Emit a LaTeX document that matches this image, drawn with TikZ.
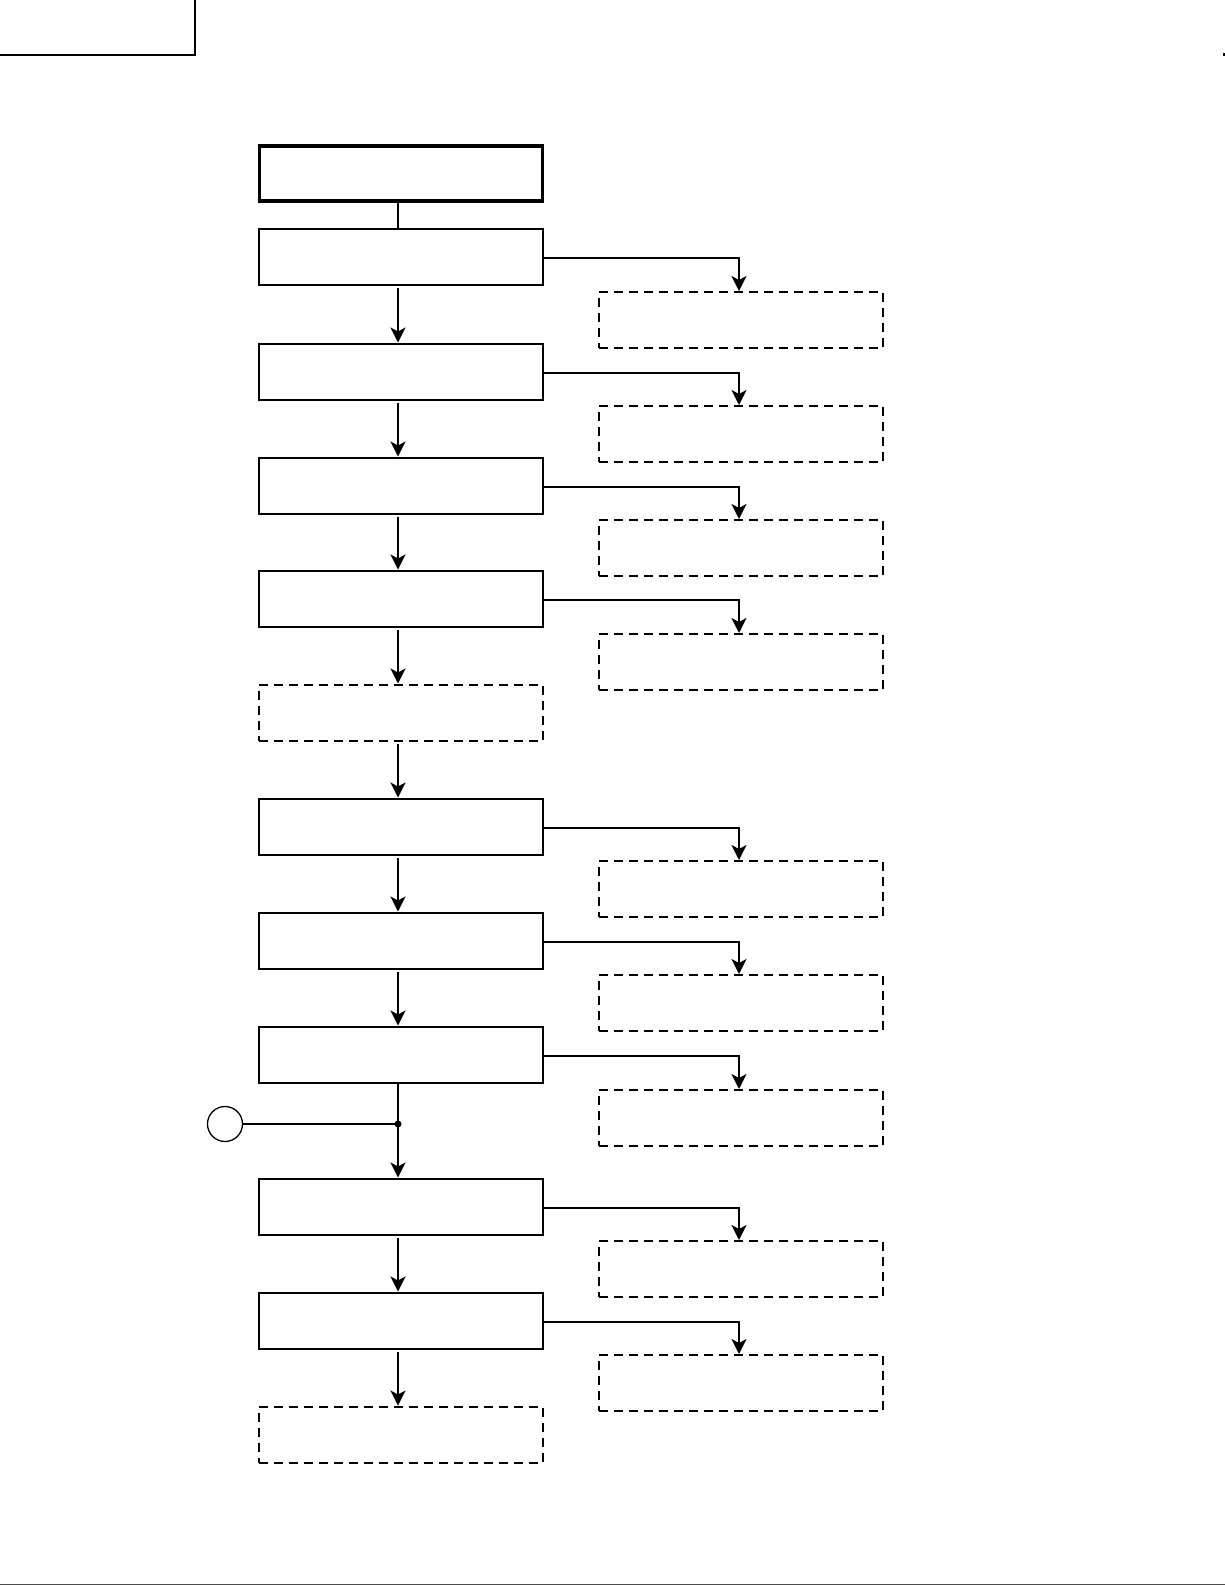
\documentclass[tikz,border=0pt]{standalone}
\usetikzlibrary{arrows.meta}
\begin{document}
\begin{tikzpicture}[x=1pt,y=-1pt,
  mainbox/.style={draw,line width=2pt,minimum width=284pt,minimum height=56pt,inner sep=0pt},
  thickbox/.style={draw,line width=3.3pt,minimum width=283pt,minimum height=55pt,inner sep=0pt},
  dashbox/.style={draw,line width=2pt,dash pattern=on 9pt off 6pt,minimum width=284pt,minimum height=56pt,inner sep=0pt},
  flow/.style={line width=2pt,-{Stealth[length=15pt,width=15pt,inset=4pt]}},
  plain/.style={line width=2pt}]
\useasboundingbox (0,0) rectangle (1225,1585);
% header fragment
\draw[line width=2.6pt] (0,55) -- (195,55) -- (195,0);
\fill (1223,53) rectangle (1225,55.5);
\draw[line width=0.8pt,black!70] (0,1584.6) -- (1225,1584.6);
% main column
\node[thickbox] (b0) at (401,173.5) {};
\node[mainbox] (b1) at (401,256.5) {};
\node[mainbox] (b2) at (401,371.5) {};
\node[mainbox] (b3) at (401,485.5) {};
\node[mainbox] (b4) at (401,598.5) {};
\node[dashbox] (b5) at (401,712.5) {};
\node[mainbox] (b6) at (401,826.5) {};
\node[mainbox] (b7) at (401,940.5) {};
\node[mainbox] (b8) at (401,1054.5) {};
\node[mainbox] (b9) at (401,1206.5) {};
\node[mainbox] (b10) at (401,1320.5) {};
\node[dashbox] (b11) at (401,1434.5) {};
% side boxes
\node[dashbox] (s1) at (740.5,320) {};
\node[dashbox] (s2) at (740.5,434) {};
\node[dashbox] (s3) at (740.5,548) {};
\node[dashbox] (s4) at (740.5,662) {};
\node[dashbox] (s6) at (740.5,889) {};
\node[dashbox] (s7) at (740.5,1003) {};
\node[dashbox] (s8) at (740.5,1118) {};
\node[dashbox] (s9) at (740.5,1269) {};
\node[dashbox] (s10) at (740.5,1383) {};
% circle connector
\node[draw,circle,line width=1.3pt,minimum size=35pt,inner sep=0pt] (c) at (225,1124) {};
\coordinate (j) at (398,1124);
% vertical flow
\draw[plain] ([xshift=-3pt]b0.south) -- ([xshift=-3pt]b1.north);
\foreach \a/\b in {b1/b2,b2/b3,b3/b4,b4/b5,b5/b6,b6/b7,b7/b8,b9/b10,b10/b11}
  \draw[flow] ([xshift=-3pt,yshift=-2pt]\a.south) -- ([xshift=-3pt]\b.north);
\draw[plain] ([xshift=-3pt]b8.south) -- (j);
\draw[flow] (j) -- ([xshift=-3pt]b9.north);
\draw[line width=1.3pt] (c.east) -- (j);
\fill (j) circle (3.5pt);
% side flows
\foreach \n in {1,2,3,4,6,7,8,9,10}
  \draw[flow] ([yshift=-1.5pt]b\n.east) -| ([xshift=-1.5pt]s\n.north);
\end{tikzpicture}
\end{document}
